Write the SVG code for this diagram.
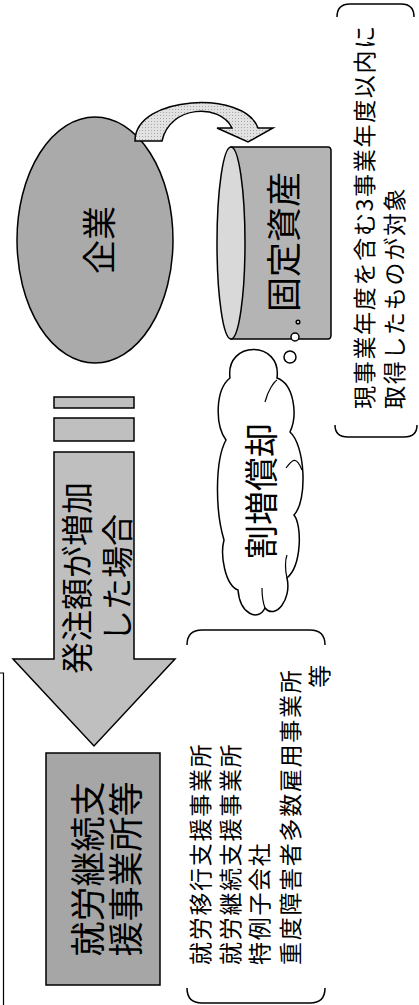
<svg xmlns="http://www.w3.org/2000/svg" width="419" height="1005" viewBox="0 0 419 1005">
<style>
text{font-family:"Noto Sans CJK JP","Noto Sans",sans-serif;fill:#000;dominant-baseline:central}
.s{stroke:#000;stroke-width:1.5}
.big{font-size:34px;text-anchor:middle}
.lst{font-size:23px;letter-spacing:1.7px}
.br{fill:none;stroke:#000;stroke-width:1.5}
</style>
<defs>
<pattern id="dots" width="3" height="3" patternUnits="userSpaceOnUse">
<rect width="3" height="3" fill="#e2e2e2"/>
<rect x="1" y="1" width="1" height="1" fill="#a8a8a8"/>
</pattern>
</defs>
<g id="frame-left">
<path d="M0 673 H3.5 V1005" fill="none" stroke="#000" stroke-width="1.2"/>
</g>
<g id="company">
<ellipse class="s" cx="95" cy="240" rx="78" ry="123" fill="#aaaaaa"/>
<text class="big" transform="translate(97 240) rotate(-90)">企業</text>
</g>
<g id="fixed-assets">
<path class="s" d="M231 147 H328 Q331 147 331 151 V335 Q331 339 328 339 H231 Z" fill="#b4b4b4"/>
<ellipse class="s" cx="231" cy="243" rx="14" ry="96" fill="#d9d9d9"/>
<text class="big" style="font-size:35px" transform="translate(281 242) rotate(-90)">固定資産</text>
</g>
<g id="depreciation">
<circle class="s" cx="298" cy="322" r="1.8" fill="#fff" stroke-width="1.2"/>
<circle class="s" cx="295" cy="337" r="4" fill="#fff"/>
<circle class="s" cx="290" cy="357" r="6" fill="#fff"/>
<path class="s" fill="#fff" d="M230 378 C225 340,282 340,277 378 C294 384,298 415,290 432 C305 445,308 500,294 515 C302 525,302 565,287 578 C292 600,275 620,265 608 C258 622,240 614,238 590 C225 585,220 555,224 540 C215 510,215 460,226 440 C215 425,215 390,230 378 Z"/>
<path fill="none" stroke="#000" stroke-width="1.2" d="M265 402 C268 390,274 382,277 380 M286 468 C292 460,296 455,302 470 M287 578 C285 570,285 560,287 555 M265 608 C262 600,262 595,262 588"/>
<text class="big" transform="translate(259 491) rotate(-90)">割増償却</text>
</g>
<g id="connectors">
<path id="curved-arrow" class="s" fill="url(#dots)" d="M135 141 C135 95,245 90,258 128 L273 128 L248 142 L217 128 L232 128 C220 103,170 105,162 141 Z"/>
<g id="order-arrow">
<rect class="s" x="54" y="397" width="80" height="11" fill="#bfbfbf"/>
<rect class="s" x="54" y="418" width="80" height="23" fill="#bfbfbf"/>
<path class="s" d="M54 452 H134 V659 H175 L94 746 L13 659 H54 Z" fill="#bfbfbf"/>
<text style="font-size:32px;text-anchor:middle" transform="translate(75 578) rotate(-90)">発注額が増加</text>
<text style="font-size:32px;text-anchor:middle" transform="translate(115 578) rotate(-90)">した場合</text>
</g>
</g>
<g id="support-office">
<rect class="s" x="46" y="753" width="114" height="232" fill="#a6a6a6"/>
<text class="big" style="font-size:35px" transform="translate(85 869) rotate(-90)">就労継続支</text>
<text class="big" style="font-size:35px" transform="translate(123 869) rotate(-90)">援事業所等</text>
</g>
<g id="office-list">
<path class="br" d="M187 645 Q187 630 202 630 H310 Q325 630 325 645"/>
<path class="br" d="M187 988 Q187 1003 202 1003 H310 Q325 1003 325 988"/>
<text class="lst" transform="translate(198.5 965) rotate(-90)">就労移行支援事業所</text>
<text class="lst" transform="translate(229 965) rotate(-90)">就労継続支援事業所</text>
<text class="lst" transform="translate(258 965) rotate(-90)">特例子会社</text>
<text class="lst" transform="translate(288.5 965) rotate(-90)">重度障害者多数雇用事業所</text>
<text class="lst" style="text-anchor:end" transform="translate(317.5 663) rotate(-90)">等</text>
</g>
<g id="note">
<path class="br" d="M337 17 Q337 4 350 4 H401 Q414 4 414 17"/>
<path class="br" d="M335 425 Q335 437 348 437 H404 Q417 437 417 425"/>
<text class="lst" transform="translate(363 409) rotate(-90)">現事業年度を含む3事業年度以内に</text>
<text class="lst" transform="translate(393 409) rotate(-90)">取得したものが対象</text>
</g>
</svg>
